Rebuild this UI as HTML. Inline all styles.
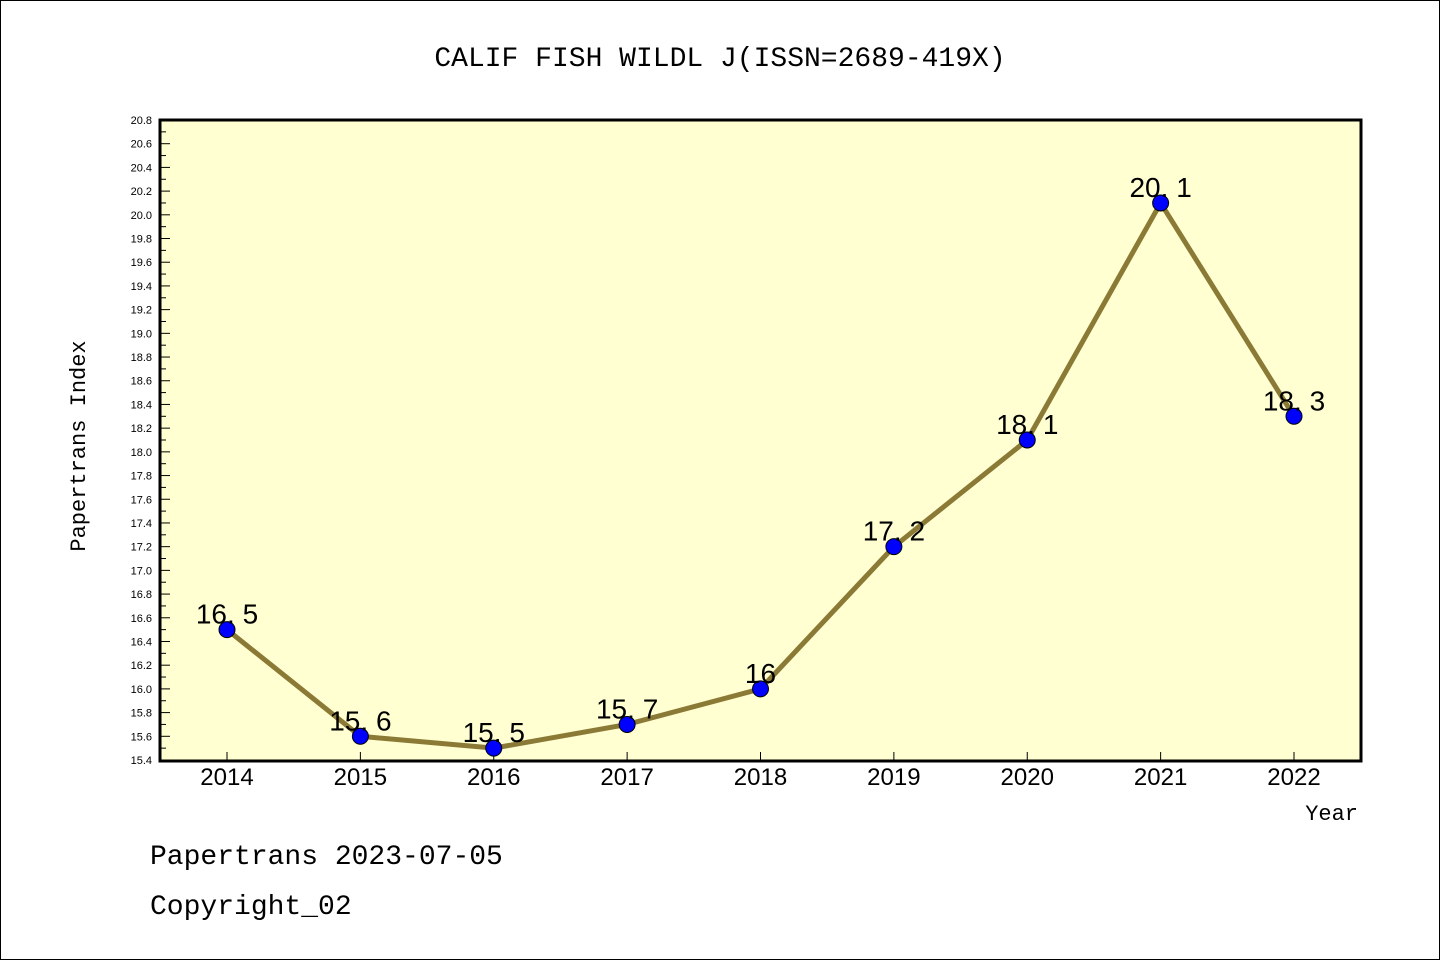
<!DOCTYPE html>
<html><head><meta charset="utf-8"><style>
body{margin:0;background:#fff;}
svg{display:block;font-family:"Liberation Mono","DejaVu Sans Mono",monospace;}
</style></head><body>
<svg id="c" width="1440" height="960" viewBox="0 0 1440 960">
<rect x="0.5" y="0.5" width="1439" height="959" fill="#fff" stroke="#000"/>
<text x="720" y="66" font-size="28" text-anchor="middle">CALIF FISH WILDL J(ISSN=2689-419X)</text>
<rect x="160" y="120" width="1201" height="641" fill="#ffffd2" stroke="#000" stroke-width="3"/>
<g id="yt"></g><g id="xt"></g><g id="ser"></g>
<text x="85" y="446" font-size="22" text-anchor="middle" transform="rotate(-90 85 446)">Papertrans Index</text>
<text x="1358" y="820" font-size="22" text-anchor="end">Year</text>
<text x="150" y="864" font-size="28">Papertrans 2023-07-05</text>
<text x="150" y="914" font-size="28">Copyright_02</text>
</svg>
<script>
const years=["2014","2015","2016","2017","2018","2019","2020","2021","2022"];
const values=[16.5,15.6,15.5,15.7,16.0,17.2,18.1,20.1,18.3];
const labels=["16.5","15.6","15.5","15.7","16","17.2","18.1","20.1","18.3"];
const yMin=15.4,yMax=20.8;
const NS="http://www.w3.org/2000/svg";
const X0=160,X1=1361,Y0=760,Y1=120;
const sx=i=>227+i*(1294-227)/(years.length-1);
const sy=v=>Y0-(v-yMin)/(yMax-yMin)*(Y0-Y1);
function mk(t,a,p){const e=document.createElementNS(NS,t);for(const k in a)e.setAttribute(k,a[k]);p.appendChild(e);return e;}
const yt=document.getElementById('yt');
for(let k=0;k<=Math.round((yMax-yMin)*10);k++){
 const v=yMin+k*0.1,y=sy(v),maj=k%2==0;
 const l=mk('line',{x1:X0,x2:X0+(maj?10:6),y1:y,y2:y,stroke:'#000','stroke-width':1},yt);
 
 
 if(maj){const t=mk('text',{x:X0-8,y:y+4,'font-size':11,'text-anchor':'end','font-family':'Liberation Sans, sans-serif'},yt);t.textContent=v.toFixed(1);
 
 }
}
const xt=document.getElementById('xt');
years.forEach((yr,i)=>{const x=sx(i);
 const l=mk('line',{x1:x,x2:x,y1:Y0,y2:Y0-8,stroke:'#000','stroke-width':1},xt);
 
 
 const t=mk('text',{x:x,y:785,'font-size':24,'text-anchor':'middle','font-family':'Liberation Sans, sans-serif'},xt);t.textContent=yr;
 
 
});
const ser=document.getElementById('ser');
const pl=mk('polyline',{points:values.map((v,i)=>sx(i)+','+sy(v)).join(' '),fill:'none',stroke:'#8b7a35','stroke-width':5},ser);


values.forEach((v,i)=>{
 const c=mk('circle',{cx:sx(i),cy:sy(v),r:8,fill:'#0000ff',stroke:'#000','stroke-width':1},ser);
 
 
 const t=mk('text',{x:sx(i),y:sy(v)-6,'font-size':28,'text-anchor':'middle','font-family':'Liberation Sans, sans-serif'},ser);t.textContent=labels[i].replace('.','. ');
 
 
});
</script>
</body></html>
